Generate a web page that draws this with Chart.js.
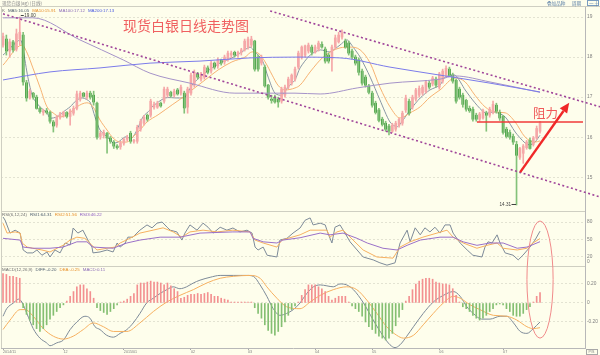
<!DOCTYPE html>
<html>
<head>
<meta charset="utf-8">
<style>
  html, body { margin: 0; padding: 0; background: #fefeec; }
  #wrap { width: 600px; height: 355px; position: relative; }
  canvas { display: block; }
</style>
<script src="https://cdn.jsdelivr.net/npm/chart.js@4.4.1/dist/chart.umd.min.js"></script>
</head>
<body>
<div id="wrap"><canvas id="c" width="600" height="355"></canvas></div>
<script>
// --- dati (candele giornaliere) ---
const open = [18.30,18.45,18.15,18.38,18.20,18.45,18.55,17.36,16.98,17.10,
  17.00,16.72,16.62,16.66,16.62,16.38,16.30,16.50,16.55,16.62,
  16.52,16.60,16.72,16.95,17.10,17.00,17.10,17.05,16.85,16.02,
  16.05,16.10,15.98,15.88,15.78,15.76,15.85,15.95,16.10,15.90,
  15.90,16.20,16.35,16.55,16.55,16.75,16.75,16.85,16.90,17.05,
  17.12,17.05,17.18,17.10,17.10,16.75,17.10,17.30,17.58,17.45,
  17.50,17.73,17.65,17.85,17.78,17.93,17.88,17.95,18.05,18.12,
  18.05,18.12,18.18,18.25,18.30,18.40,18.00,17.85,17.75,17.30,
  16.95,17.00,16.95,16.90,17.05,17.25,17.35,17.45,17.75,18.00,
  18.05,18.15,18.25,18.12,18.20,18.32,18.20,18.05,17.95,18.25,
  18.38,18.50,18.40,18.35,18.15,18.00,17.93,17.65,17.50,17.28,
  17.10,16.85,16.68,16.45,16.35,16.28,16.15,16.20,16.30,16.35,
  16.68,16.90,16.75,16.95,17.05,17.10,17.13,17.35,17.33,17.45,
  17.25,17.40,17.55,17.70,17.55,17.42,17.20,17.05,16.92,16.72,
  16.70,16.55,16.45,16.48,16.60,16.55,16.62,16.80,16.62,16.52,
  16.20,16.12,16.02,15.82,15.50,15.60,15.74,15.92,15.82,15.98,
  16.15];
const high = [18.60,18.55,18.45,18.42,18.70,19.00,18.62,17.42,17.20,17.12,
  17.05,16.75,16.70,16.72,16.65,16.42,16.55,16.62,16.65,16.64,
  16.70,16.78,17.15,17.15,17.12,17.15,17.15,17.15,16.88,16.15,
  16.18,16.12,16.02,15.92,15.82,15.90,15.98,16.05,16.15,15.95,
  16.30,16.45,16.55,16.58,16.95,16.88,16.90,16.88,17.25,17.25,
  17.15,17.20,17.22,17.30,17.15,17.25,17.60,17.68,17.62,17.62,
  17.80,17.78,17.90,17.88,17.98,17.95,18.05,18.15,18.15,18.15,
  18.15,18.22,18.45,18.50,18.52,18.42,18.05,18.05,17.80,17.32,
  17.05,17.05,17.00,17.25,17.30,17.50,17.58,17.75,18.15,18.28,
  18.30,18.35,18.30,18.30,18.40,18.38,18.25,18.10,18.30,18.55,
  18.62,18.68,18.45,18.40,18.20,18.05,17.98,17.70,17.55,17.32,
  17.15,16.90,16.72,16.50,16.40,16.32,16.35,16.40,16.48,16.65,
  17.05,16.95,17.05,17.22,17.28,17.30,17.42,17.40,17.52,17.50,
  17.62,17.70,17.78,17.75,17.60,17.45,17.25,17.10,16.95,16.78,
  16.75,16.60,16.62,16.70,16.65,16.75,16.90,16.85,16.68,16.55,
  16.25,16.18,16.08,15.90,15.75,15.82,15.92,15.98,16.02,16.28,
  16.40];
const low = [18.25,18.05,18.00,18.12,18.15,18.30,17.30,16.90,16.95,16.95,
  16.70,16.60,16.55,16.58,16.35,16.13,16.25,16.45,16.50,16.48,
  16.30,16.55,16.68,16.90,17.00,16.95,16.95,16.80,15.95,15.95,
  15.98,15.60,15.85,15.72,15.70,15.70,15.80,15.90,15.85,15.85,
  15.85,16.15,16.30,16.40,16.50,16.70,16.72,16.75,16.85,17.00,
  17.00,17.00,17.05,17.05,16.60,16.60,17.05,17.25,17.45,17.40,
  17.45,17.58,17.60,17.70,17.72,17.80,17.82,17.90,17.98,18.00,
  18.00,18.05,18.15,18.20,18.25,17.65,17.65,17.80,17.25,16.95,
  16.85,16.85,16.75,16.85,17.00,17.20,17.30,17.40,17.70,17.95,
  18.00,18.10,18.05,18.10,18.15,18.22,17.85,17.85,17.65,18.20,
  18.35,18.45,18.22,18.05,17.95,17.80,17.55,17.30,17.25,17.08,
  16.75,16.58,16.38,16.28,16.15,16.06,16.12,16.15,16.25,16.30,
  16.62,16.55,16.70,16.90,17.00,17.05,17.10,17.20,17.28,17.25,
  17.20,17.35,17.50,17.52,17.35,16.85,16.95,16.75,16.65,16.62,
  16.40,16.40,16.40,16.45,16.15,16.50,16.58,16.60,16.42,16.08,
  15.98,15.95,15.82,14.31,15.45,15.35,15.70,15.70,15.78,15.95,
  16.10];
const close = [18.52,18.15,18.38,18.18,18.58,18.62,17.38,16.98,17.15,17.00,
  16.72,16.64,16.66,16.62,16.40,16.28,16.50,16.58,16.62,16.52,
  16.66,16.72,17.08,17.10,17.02,17.10,17.00,16.88,16.00,16.10,
  16.12,15.98,15.90,15.78,15.74,15.85,15.95,16.00,15.90,15.92,
  16.25,16.40,16.50,16.45,16.90,16.82,16.85,16.78,17.20,17.20,
  17.03,17.15,17.08,17.25,16.73,17.20,17.55,17.62,17.50,17.58,
  17.75,17.62,17.85,17.75,17.93,17.85,18.00,18.10,18.10,18.05,
  18.12,18.18,18.40,18.45,18.45,17.70,17.70,18.00,17.28,17.00,
  16.92,16.88,16.88,17.20,17.25,17.45,17.55,17.70,18.10,18.25,
  18.28,18.30,18.12,18.25,18.35,18.25,17.90,17.90,18.25,18.48,
  18.55,18.60,18.25,18.10,18.00,17.85,17.62,17.35,17.30,17.12,
  16.80,16.62,16.42,16.32,16.20,16.15,16.30,16.35,16.45,16.60,
  16.98,16.60,17.00,17.18,17.22,17.25,17.38,17.25,17.48,17.30,
  17.58,17.65,17.72,17.55,17.40,16.90,17.00,16.82,16.70,16.66,
  16.45,16.45,16.58,16.66,16.55,16.70,16.82,16.65,16.48,16.12,
  16.02,16.00,15.88,15.55,15.72,15.78,15.88,15.72,15.98,16.22,
  16.35];

// medie mobili: [indice candela, valore]
const ma5 = [[0,18.05],[5.1,18.43],[6,18.18],[7.4,17.50],[8.9,17.00],[11,16.76],[13.1,16.61],[14,16.48],[16.1,16.51],[17.9,16.63],
  [20,16.76],[22,16.93],[23.8,16.98],[25.9,16.88],[27.4,16.51],[28.9,16.18],[31,16.01],[32.8,15.86],[34.3,15.88],[36.4,16.01],
  [38.4,15.98],[39.9,16.18],[41.7,16.51],[43.8,16.68],[44.4,16.76],[48.3,16.98],[52.1,16.98],[54.2,17.00],[56.3,17.30],[59.3,17.55],
  [62.3,17.73],[65.3,17.88],[68.2,17.98],[71.2,18.13],[73.6,18.25],[75.1,18.13],[77.2,17.93],[79,17.50],[81,17.10],[83.1,17.05],
  [84.9,17.25],[87,17.43],[88.5,17.73],[91.5,18.05],[94.5,18.18],[97.4,18.13],[100.4,18.30],[102.5,18.43],[104.3,18.25],[106.4,18.00],
  [109.4,17.50],[112.3,16.93],[115.3,16.38],[117.4,16.26],[119.2,16.43],[121.3,16.68],[124.3,16.98],[127.2,17.18],[130.2,17.30],[131.7,17.50],
  [134.7,17.55],[137.7,17.18],[140.6,16.86],[143.6,16.61],[146.6,16.63],[149.6,16.51],[152.6,16.13],[155.5,15.86],[157,15.81],[158.5,15.88],[160,16.05]];
const ma10 = [[0,17.80],[5.7,18.30],[7.2,18.10],[8.9,17.73],[11,17.25],[13.1,16.76],[14.9,16.61],[17,16.51],[19.1,16.56],[22,16.76],
  [25,16.86],[26.8,16.76],[28.9,16.43],[31,16.18],[32.8,15.98],[34.9,15.88],[36.9,15.88],[38.7,16.01],[40.8,16.18],[42.9,16.38],
  [46.2,16.56],[50.4,16.81],[53.3,16.98],[56.3,17.18],[60.2,17.43],[64.1,17.68],[68.2,17.88],[72.1,18.00],[74.2,18.13],[76,18.10],
  [78.1,17.88],[80.2,17.55],[81.9,17.30],[84,17.18],[87,17.23],[88.5,17.30],[91.5,17.63],[95.4,18.00],[100.4,18.23],[103.4,18.25],
  [106.4,18.18],[109.4,17.85],[112.3,17.25],[115.3,16.76],[118.3,16.48],[121.3,16.61],[124.3,16.76],[127.2,17.00],[130.2,17.18],[134.7,17.48],
  [137.7,17.38],[140.6,17.05],[143.6,16.76],[146.6,16.63],[149.6,16.61],[152.6,16.38],[155.5,16.01],[158.5,15.88],[160,15.91]];
const ma100 = [[0,18.98],[8.9,18.98],[22.9,18.43],[35.8,17.93],[43.8,17.60],[55.7,17.35],[69.1,17.10],[87,17.10],[94.5,17.08],
  [105.5,17.23],[115.3,17.35],[130.2,17.45],[134.7,17.53],[145.1,17.38],[160,17.12]];
const ma200 = [[0,17.43],[14,17.63],[28.9,17.73],[43.8,17.85],[58.7,17.90],[73.6,17.98],[87,18.00],[100.4,17.98],
  [115.3,17.75],[130.2,17.55],[145.1,17.35],[160,17.13]];

// canale ribassista (linee tratteggiate)
const trendLow = [[0,19.08],[177.9,14.51]];
const trendHigh = [[79.6,19.15],[177.9,16.76]];

// RSI(6,12,24)
const rsi1 = [[0,88.6],[0.6,83.4],[2.1,61],[3.6,66],[5.1,61],[6,32],[7.2,27],[8.9,27],[10.1,32],[11.6,23],[13.1,28.6],[14,20],
  [15.5,32],[17,27],[18.5,44],[20,40.5],[20.9,69.7],[22.3,61],[23.8,66],[25.3,49],[26.5,37],[26.8,27],[28.9,28.6],[31,32],
  [32.8,28.6],[34,44],[34.9,37],[36.4,44],[37.2,54],[38.7,54],[39.9,61],[40.8,66],[42.9,75],[44.4,70],[45.9,78],[47.4,80],
  [48.9,71],[49.8,66],[51.8,63],[53.3,49],[54.2,61],[55.7,75],[57.8,66],[59.6,78],[61.1,71],[62.6,61],[64.7,71],[66.7,66],
  [68.5,69.7],[70.6,63],[72.7,66],[74.2,61],[75.1,37],[76,32],[77.5,37],[78.7,23],[81.6,20],[82.5,49],[84.6,52],[86.4,61],
  [88.5,69.7],[90,83],[91.5,87],[92.4,75],[94.5,78],[96,75],[96.8,61],[98,44],[98.9,71],[100.4,75],[101.9,61],[103.4,46],
  [105.5,32],[107.3,20],[110.3,15],[112.3,10],[114.4,6],[116.8,10],[118.3,44],[120.4,66],[121.3,46],[122.8,70],[124.3,58],
  [125.7,70],[127.2,63],[128.7,71],[130.2,61],[131.7,75],[133.2,75],[134.1,61],[136.2,44],[138.3,32],[140,23],[142.7,20],
  [143.6,37],[144.5,46],[145.7,44],[147.2,58],[148.1,44],[149.6,27],[152,23],[153.5,15],[154.9,23],[157,37],[158.5,49],[160,64.31]];
const rsi2 = [[0,78],[1.2,61],[3.6,63],[5.1,61],[5.7,44],[7.2,37],[8.9,35],[11.6,32],[14,28.6],[16.1,35],[17.9,40],[20,49],
  [22,54],[24.4,52],[26.5,40],[28,32],[31,35],[33.4,37],[34.9,44],[37.8,52],[40.8,61],[44.7,66],[47.7,70],[50.7,63],[53.3,54],
  [55.7,63],[59.6,66],[63.8,63],[68.5,66],[73.6,63],[75.1,49],[77.5,44],[81.6,37],[83.1,49],[88.5,58],[91.5,66],[96.5,66],
  [97.4,54],[99.5,63],[101.3,66],[104.3,49],[107.3,32],[111.4,20],[116.2,18],[118.3,37],[121.3,46],[125.1,54],[129.3,61],
  [132.3,66],[134.1,54],[137.1,44],[141.2,35],[144.2,40],[147.2,44],[149,35],[153.2,32],[156.1,35],[157.9,44],[160,51.56]];
const rsi3 = [[0,52],[5.1,49],[6,37],[8.9,35],[14,35],[17.9,37],[22,46],[25,46],[26.8,37],[32.8,35],[36.9,44],[40.8,49],
  [46.8,54],[52.7,54],[58.7,61],[68.5,63],[73.6,63],[74.5,52],[77.5,46],[81.6,44],[83.4,49],[88.5,53],[94.5,61],[97.4,58],
  [101.3,61],[105.5,52],[108.5,44],[113.2,35],[117.4,32],[120.4,40],[124.3,49],[130.2,54],[134.1,54],[137.1,46],[141.2,40],
  [145.1,44],[149,44],[153.2,35],[156.1,37],[160,46.22]];

// MACD(12,26,9)
const diff = [[0,-0.14],[1.1,-0.06],[3.1,0.00],[4.6,0.04],[5.6,0.01],[7.1,-0.11],[9,-0.27],[11,-0.37],[13,-0.42],[14,-0.45],
  [16,-0.42],[18,-0.39],[20,-0.28],[22,-0.20],[24.4,-0.14],[25.9,-0.16],[27.4,-0.25],[28.9,-0.28],[30.9,-0.34],[32.9,-0.36],
  [34.9,-0.32],[36.9,-0.28],[38.8,-0.21],[40.8,-0.11],[42.8,0.00],[44.8,0.05],[46.8,0.10],[48.8,0.14],[50.7,0.17],[52.7,0.15],
  [54.7,0.17],[56.7,0.21],[58.7,0.24],[61.7,0.27],[64.7,0.29],[68.6,0.29],[72.6,0.29],[74.6,0.28],[76.6,0.19],[78.6,0.07],
  [80.5,-0.06],[82.5,-0.13],[84.5,-0.11],[86.5,-0.07],[88.5,0.00],[90.5,0.10],[92.5,0.17],[94.5,0.19],[96.5,0.18],[98.4,0.17],
  [100.4,0.20],[102.4,0.19],[104.4,0.14],[107.4,0.00],[110.3,-0.18],[113.3,-0.35],[115.3,-0.44],[116.8,-0.47],[118.3,-0.44],
  [120.3,-0.35],[122.3,-0.25],[125.2,-0.11],[128.2,0.01],[131.2,0.08],[134.2,0.12],[136.2,0.07],[138.2,-0.04],[140.1,-0.11],
  [142.6,-0.17],[145.1,-0.17],[148.1,-0.14],[150.1,-0.14],[152.1,-0.21],[154.1,-0.30],[156.1,-0.32],[158,-0.27],[160,-0.20]];
const dea = [[0,-0.28],[2.1,-0.18],[5.1,-0.07],[6.6,-0.07],[9,-0.14],[12,-0.27],[15,-0.35],[18,-0.38],[20.9,-0.35],[23.9,-0.28],
  [26.9,-0.21],[29.9,-0.25],[32.9,-0.30],[36.9,-0.30],[40.8,-0.21],[44.8,-0.09],[48.8,0.01],[52.7,0.08],[56.7,0.14],[60.7,0.21],
  [64.7,0.26],[68.6,0.28],[73.6,0.29],[76.6,0.26],[78.6,0.17],[81.6,0.05],[84.5,-0.04],[88.5,-0.06],[91.5,0.01],[94.5,0.08],
  [98.4,0.14],[102.4,0.17],[105.4,0.14],[108.4,0.03],[111.4,-0.11],[114.3,-0.25],[117.3,-0.34],[119.3,-0.37],[122.3,-0.34],
  [125.2,-0.23],[128.2,-0.11],[131.2,0.00],[134.2,0.07],[136.2,0.05],[139.2,-0.02],[142.1,-0.07],[146.1,-0.13],[150.1,-0.14],
  [153.1,-0.18],[156.1,-0.25],[158,-0.27],[160,-0.26]];
const hist = [0.31,0.30,0.28,0.28,0.27,0.26,-0.05,-0.12,-0.18,-0.23,
  -0.27,-0.30,-0.27,-0.23,-0.17,-0.13,-0.09,-0.05,-0.02,0.02,
  0.07,0.12,0.17,0.19,0.19,0.15,0.12,0.05,-0.05,-0.08,
  -0.10,-0.12,-0.09,-0.06,-0.02,0.01,0.02,0.04,0.07,0.10,
  0.19,0.21,0.21,0.22,0.23,0.22,0.22,0.21,0.19,0.21,
  0.18,0.15,0.12,0.05,0.06,0.08,0.09,0.09,0.10,0.09,
  0.10,0.11,0.09,0.07,0.07,0.05,0.04,0.03,0.01,0.01,
  0.01,0.01,0.01,0.01,0.01,-0.05,-0.11,-0.16,-0.23,-0.29,
  -0.32,-0.34,-0.30,-0.25,-0.20,-0.13,-0.07,-0.03,0.01,0.08,
  0.14,0.19,0.19,0.19,0.17,0.15,0.12,0.07,0.03,0.05,
  0.07,0.07,0.07,0.01,-0.03,-0.06,-0.09,-0.14,-0.20,-0.25,
  -0.28,-0.32,-0.35,-0.37,-0.39,-0.37,-0.32,-0.24,-0.15,-0.07,
  0.02,0.07,0.14,0.20,0.23,0.25,0.26,0.26,0.25,0.22,
  0.21,0.20,0.20,0.19,0.15,0.08,0.01,-0.04,-0.06,-0.09,
  -0.13,-0.16,-0.18,-0.16,-0.13,-0.09,-0.06,-0.02,-0.01,-0.02,
  -0.06,-0.09,-0.13,-0.14,-0.14,-0.11,-0.07,-0.04,0.01,0.07,
  0.11];

// etichette degli assi
const mainTicks = [15, 16, 17, 18, 19];
const rsiTicks = [20, 50, 80];
const macdTicks = [-0.2, 0, 0.2];
const monthIdx = [0, 18, 36, 56, 73, 93, 110, 130, 149];
const monthLabels = ['2014/11', '12', '2015/01', '02', '03', '04', '05', '06', '07'];

// --- colori ---
const UP = '#f5a8a8';
const DOWN = '#1c8a1c';
const DOWN_WICK = '#84c27a';
const LBL = '#808080';
const SANS = '"Liberation Sans", Arial, sans-serif';
const CJK = '"Noto Sans CJK SC", sans-serif';

const pts = arr => arr.map(([x, y]) => ({ x, y }));
const isUp = i => close[i] >= open[i];

const wicks = close.map((_, i) => ({ x: i, y: [low[i], high[i]] }));
const bodies = close.map((_, i) => ({ x: i, y: [open[i], close[i]] }));
const bars = hist.map((v, i) => ({ x: i, y: v }));

function line(data, color, axis, extra) {
  return Object.assign({
    type: 'line', data: pts(data), yAxisID: axis, borderColor: color,
    borderWidth: 1, pointRadius: 0, fill: false, tension: 0
  }, extra || {});
}

const smooth = { cubicInterpolationMode: 'monotone' };

const yAxis = (id, min, max, ticks, weight, fmt) => ({
  type: 'linear', position: 'right', stack: 'panels', stackWeight: weight,
  min, max,
  afterFit: s => { s.width = 15; },
  afterBuildTicks: s => { s.ticks = ticks.map(v => ({ value: v })); },
  grid: { color: '#e3e3d2', drawTicks: false },
  border: { color: '#b8b8b8', dash: [2, 2] },
  ticks: { color: LBL, font: { size: 4.8, family: SANS }, padding: 2, callback: fmt || (v => v) }
});

// testo multicolore nelle intestazioni
function segs(ctx, x, y, parts) {
  parts.forEach(([t, c]) => {
    ctx.fillStyle = c;
    ctx.fillText(t, x, y);
    x += ctx.measureText(t).width + 3;
  });
}

const overlay = {
  id: 'overlay',
  afterDatasetsDraw(chart) {
    const { ctx, chartArea: a } = chart;
    const { x, y, yRsi, yMacd } = chart.scales;
    ctx.save();

    // cornice e separatori dei pannelli
    ctx.strokeStyle = '#cfcfc2';
    ctx.lineWidth = 1;
    ctx.beginPath();
    ctx.moveTo(0, a.top - 0.5); ctx.lineTo(600, a.top - 0.5);
    ctx.moveTo(a.left + 0.5, a.top); ctx.lineTo(a.left + 0.5, a.bottom);
    [yRsi.top, yMacd.top].forEach(t => {
      ctx.moveTo(a.left, Math.round(t) + 0.5);
      ctx.lineTo(a.right, Math.round(t) + 0.5);
    });
    ctx.stroke();

    // intestazioni
    ctx.textBaseline = 'middle';
    ctx.textAlign = 'left';
    ctx.font = '4.6px ' + CJK;
    ctx.fillStyle = '#8a8a8a';
    ctx.fillText('现货白银(ag) (日线)', 2, 3);
    ctx.fillStyle = '#5b7fa6';
    ctx.fillText('叠加品种', 547, 3);
    ctx.fillText('周期', 572, 3);
    ctx.strokeStyle = '#7a9cc0';
    ctx.strokeRect(587.5, 0.5, 11, 5);
    ctx.fillText('一 十', 589, 3);

    ctx.font = '4.4px ' + SANS;
    segs(ctx, 2, a.top + 3.5, [['K', '#707070'], ['MA5:16.05', '#50606f'], ['MA10:15.91', '#e8902a'],
      ['MA100:17.12', '#8c6cb8'], ['MA200:17.13', '#4a5ae0']]);
    segs(ctx, 2, yRsi.top + 4, [['RSI(6,12,24)', '#707070'], ['RSI1:64.31', '#50606f'],
      ['RSI2:51.56', '#e8902a'], ['RSI3:46.22', '#8c5cc0']]);
    segs(ctx, 2, yMacd.top + 4, [['MACD(12,26,9)', '#707070'], ['DIFF:-0.20', '#50606f'],
      ['DEA:-0.25', '#e8902a'], ['MACD:0.11', '#8c6cb8']]);

    // etichetta 0 dell'RSI e riquadro in basso a destra
    ctx.font = '4.8px ' + SANS;
    ctx.fillStyle = LBL;
    ctx.fillText('0', a.right + 2, yRsi.bottom - 4);
    ctx.strokeStyle = '#a8a8a8';
    ctx.strokeRect(a.right + 1.5, a.bottom + 1.5, 11, 5);
    ctx.font = '3.6px ' + SANS;
    ctx.fillText('P/S', a.right + 3.5, a.bottom + 4.2);

    // massimo e minimo
    ctx.font = '4.6px ' + SANS;
    ctx.strokeStyle = '#404040';
    ctx.fillStyle = '#404040';
    const hx = x.getPixelForValue(5), hy = y.getPixelForValue(19.00);
    ctx.beginPath(); ctx.moveTo(hx + 1, hy - 1.5); ctx.lineTo(hx + 4, hy - 1.5); ctx.stroke();
    ctx.fillText('19.00', hx + 4.5, hy - 1.5);
    const lx = x.getPixelForValue(153), ly = y.getPixelForValue(14.31);
    ctx.beginPath(); ctx.moveTo(lx - 5, ly - 0.5); ctx.lineTo(lx - 0.5, ly - 0.5); ctx.stroke();
    ctx.textAlign = 'right';
    ctx.fillText('14.31', lx - 5.5, ly - 0.5);
    ctx.textAlign = 'left';

    // titolo
    ctx.font = '14px ' + CJK;
    ctx.fillStyle = '#f06060';
    ctx.fillText('现货白银日线走势图', 123, 25.5);

    // linea di resistenza
    const ry = y.getPixelForValue(16.38);
    ctx.strokeStyle = '#f03a3a';
    ctx.lineWidth = 1.5;
    ctx.beginPath();
    ctx.moveTo(x.getPixelForValue(141.2), ry);
    ctx.lineTo(x.getPixelForValue(172.8), ry);
    ctx.stroke();
    ctx.font = '12.5px ' + CJK;
    ctx.fillStyle = '#f05a5a';
    ctx.fillText('阻力', x.getPixelForValue(157.9), y.getPixelForValue(16.59));

    // freccia rossa
    const x1 = x.getPixelForValue(154.1), y1 = y.getPixelForValue(15.13);
    const x2 = x.getPixelForValue(168.7), y2 = y.getPixelForValue(16.86);
    const ang = Math.atan2(y2 - y1, x2 - x1);
    const hl = 10, hw = 4.5;
    const bx = x2 - hl * Math.cos(ang), by = y2 - hl * Math.sin(ang);
    ctx.strokeStyle = '#f02828';
    ctx.fillStyle = '#f02828';
    ctx.lineWidth = 2.4;
    ctx.beginPath(); ctx.moveTo(x1, y1); ctx.lineTo(bx, by); ctx.stroke();
    ctx.beginPath();
    ctx.moveTo(x2, y2);
    ctx.lineTo(bx + hw * Math.sin(ang), by - hw * Math.cos(ang));
    ctx.lineTo(bx - hw * Math.sin(ang), by + hw * Math.cos(ang));
    ctx.closePath();
    ctx.fill();

    // ellisse sugli indicatori
    const eTop = yRsi.getPixelForValue(81.7), eBot = yMacd.getPixelForValue(-0.37);
    const eL = x.getPixelForValue(156.1), eR = x.getPixelForValue(163.9);
    ctx.strokeStyle = '#f08a8a';
    ctx.lineWidth = 1;
    ctx.beginPath();
    ctx.ellipse((eL + eR) / 2, (eTop + eBot) / 2, (eR - eL) / 2, (eBot - eTop) / 2, 0, 0, Math.PI * 2);
    ctx.stroke();

    ctx.restore();
  }
};

new Chart(document.getElementById('c'), {
  type: 'bar',
  data: {
    datasets: [
      line(trendLow, '#a0459a', 'y', { borderWidth: 1.6, borderDash: [2, 2.5], clip: false }),
      line(trendHigh, '#a0459a', 'y', { borderWidth: 1.6, borderDash: [2, 2.5], clip: false }),
      line(ma200, '#7b7bea', 'y', smooth),
      line(ma100, '#a593c8', 'y', smooth),
      {
        data: wicks, yAxisID: 'y', grouped: false, barThickness: 1, minBarLength: 1,
        backgroundColor: c => isUp(c.dataIndex) ? UP : DOWN_WICK
      },
      {
        data: bodies, yAxisID: 'y', grouped: false, barThickness: 2, minBarLength: 1,
        backgroundColor: c => isUp(c.dataIndex) ? UP : DOWN
      },
      line(ma10, '#f6b272', 'y', smooth),
      line(ma5, '#8896a4', 'y', { tension: 0.25 }),
      line(rsi3, '#9a70c8', 'yRsi'),
      line(rsi2, '#f6b060', 'yRsi'),
      line(rsi1, '#7d8a98', 'yRsi'),
      {
        data: bars, yAxisID: 'yMacd', grouped: false, barThickness: 1,
        backgroundColor: c => c.raw.y >= 0 ? '#f39090' : '#84bf72'
      },
      line(dea, '#f6b060', 'yMacd', smooth),
      line(diff, '#7d8a98', 'yMacd', smooth)
    ]
  },
  options: {
    responsive: false,
    animation: false,
    devicePixelRatio: 1,
    events: [],
    layout: { padding: { left: 1, top: 7, right: 0, bottom: 0 } },
    plugins: { legend: { display: false }, tooltip: { enabled: false } },
    scales: {
      x: {
        type: 'linear', position: 'bottom', min: -0.6, max: 173.4, offset: false,
        afterFit: s => { s.height = 7; },
        afterBuildTicks: s => { s.ticks = monthIdx.map(v => ({ value: v })); },
        grid: { offset: false, drawOnChartArea: false, drawTicks: true, tickLength: 2, tickColor: '#a8a8a8' },
        border: { color: '#b8b8b8' },
        ticks: {
          color: LBL, font: { size: 3.7, family: SANS }, padding: 0, align: 'start',
          autoSkip: false, maxRotation: 0, callback: (v, i) => monthLabels[i]
        }
      },
      y: yAxis('y', 14.16, 19.25, mainTicks, 204),
      yRsi: yAxis('yRsi', 4.54, 98.87, rsiTicks, 55),
      yMacd: yAxis('yMacd', -0.474, 0.389, macdTicks, 82, v => v === 0 ? '0' : v.toFixed(2))
    }
  },
  plugins: [overlay]
});
</script>
</body>
</html>
